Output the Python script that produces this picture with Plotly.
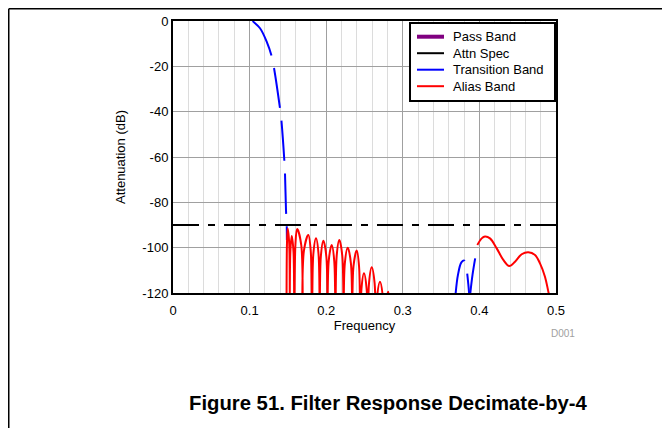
import plotly.graph_objects as go

# ---- data ----
series_names = ["Pass Band", "Attn Spec", "Transition Band", "Alias Band"]
series_colors = ["#800080", "#000000", "#0000ff", "#ff0000"]
series_widths = [4, 2, 2, 2]

pass_x = []
pass_y = []

attn_x = [0.0, 0.5]
attn_y = [-90, -90]

trans1_x = [0.1040, 0.1048, 0.1136, 0.1223, 0.1289, 0.1323, 0.1397, 0.1410, 0.1453, 0.1462, 0.1475, 0.1484, 0.1487]
trans1_y = [0.0, -0.3, -3.2, -9.1, -15.7, -21.6, -38.5, -41.9, -61.3, -67.2, -83.4, -89.2, -96.6]

trans2_x = [0.3685, 0.3720, 0.3765, 0.3803, 0.3830, 0.3855, 0.3870]
trans2_y = [-122, -112, -106.5, -105.7, -109, -116, -122]

trans3_x = [0.3875, 0.3910, 0.3956]
trans3_y = [-122, -112, -102.5]

# alias band lobes: null, shoulder, peak, shoulder, ...
alias1_x = [0.1482, 0.1488, 0.1497, 0.1517,
            0.1523, 0.1532, 0.1550, 0.1573,
            0.1582, 0.1598, 0.1620, 0.1674,
            0.1690, 0.1709, 0.1767, 0.1798,
            0.1817, 0.1832, 0.1867, 0.1900,
            0.1915, 0.1930, 0.1963, 0.2002,
            0.2017, 0.2033, 0.2072, 0.2105,
            0.2121, 0.2137, 0.2171, 0.2210,
            0.2226, 0.2243, 0.2281, 0.2323,
            0.2340, 0.2356, 0.2398, 0.2429,
            0.2445, 0.2460, 0.2493, 0.2528,
            0.2543, 0.2559, 0.2594, 0.2632,
            0.2648, 0.2664, 0.2702, 0.2740,
            0.2756, 0.2772, 0.2810, 0.2826,
            0.2835]
alias1_y = [-150, -98.0, -91.5, -98.0,
            -150, -101.8, -94.8, -101.8,
            -150, -98.8, -91.8, -98.8,
            -150, -101.4, -94.4, -101.4,
            -150, -102.9, -95.9, -102.9,
            -150, -104.0, -97.0, -104.0,
            -150, -105.8, -98.8, -105.8,
            -150, -103.6, -96.6, -103.6,
            -150, -107.0, -100.0, -107.0,
            -150, -108.3, -101.3, -108.3,
            -150, -118.3, -111.3, -118.3,
            -150, -115.6, -108.6, -115.6,
            -150, -122.0, -115.0, -122.0,
            -150, -126.4, -119.4, -126.4,
            -150]

alias2_x = [0.3973, 0.4030, 0.4073, 0.4138, 0.4226, 0.4312, 0.4390, 0.4465, 0.4552, 0.4638,
            0.4726, 0.4791, 0.4856, 0.4900, 0.4930]
alias2_y = [-98.8, -95.9, -95.1, -95.9, -100.3, -105.4, -108.1, -106.2, -102.9, -102.0,
            -103.2, -106.9, -112.8, -119.4, -124]

x_ticks = [0, 0.1, 0.2, 0.3, 0.4, 0.5]
x_ticklabels = ["0", "0.1", "0.2", "0.3", "0.4", "0.5"]
y_ticks = [0, -20, -40, -60, -80, -100, -120]
y_ticklabels = ["0", "-20", "-40", "-60", "-80", "-100", "-120"]

FONT = "Liberation Sans, Arial, sans-serif"

fig = go.Figure()
fig.add_trace(go.Scatter(x=pass_x, y=pass_y, mode="lines", name=series_names[0], showlegend=False,
                         line=dict(color=series_colors[0], width=series_widths[0])))
fig.add_trace(go.Scatter(x=attn_x, y=attn_y, mode="lines", name=series_names[1], showlegend=False,
                         line=dict(color=series_colors[1], width=series_widths[1],
                                   dash="26px,9px,7px,9px")))
fig.add_trace(go.Scatter(x=trans1_x + [None] + trans2_x + [None] + trans3_x,
                         y=trans1_y + [None] + trans2_y + [None] + trans3_y,
                         mode="lines", name=series_names[2], line_shape="spline", showlegend=False,
                         line=dict(color=series_colors[2], width=series_widths[2], dash="40px,13px")))
fig.add_trace(go.Scatter(x=alias1_x + [None] + alias2_x, y=alias1_y + [None] + alias2_y,
                         mode="lines", name=series_names[3], line_shape="spline", showlegend=False,
                         line=dict(color=series_colors[3], width=series_widths[3])))

# page has an 8px body margin; work in reference page coordinates
OFF = 8
W, H = 670 - OFF, 428 - OFF
L, R, T, B = 173, 556, 21, 293          # plot area in page coordinates
pw, ph = R - L, B - T

def px(xp):
    return (xp - L) / pw

def py(yp):
    return (B - yp) / ph

shapes = [
    dict(type="line", xref="paper", yref="paper", x0=px(OFF + 0.75), x1=px(700),
         y0=py(OFF + 0.75), y1=py(OFF + 0.75), line=dict(color="black", width=1.5)),
    dict(type="line", xref="paper", yref="paper", x0=px(OFF + 0.75), x1=px(OFF + 0.75),
         y0=py(OFF + 0.75), y1=py(440), line=dict(color="black", width=1.5)),
    # legend box
    dict(type="rect", xref="paper", yref="paper", x0=px(410), x1=px(555), y0=py(23), y1=py(101),
         fillcolor="white", line=dict(color="black", width=2), layer="above"),
]
annotations = [
    dict(text="<b>Figure 51. Filter Response Decimate-by-4</b>", xref="paper", yref="paper",
         x=px(388.5), y=py(403), xanchor="center", yanchor="middle", showarrow=False,
         font=dict(size=20.3, family=FONT, color="black")),
    dict(text="D001", xref="paper", yref="paper", x=px(563), y=py(333),
         xanchor="center", yanchor="middle", showarrow=False,
         font=dict(size=10, family=FONT, color="#a0a0a0")),
]
# legend entries
leg_y0, leg_dy = 36.7, 16.5
for i, (nm, col, lw) in enumerate(zip(series_names, series_colors, series_widths)):
    yy = leg_y0 + i * leg_dy
    shapes.append(dict(type="line", xref="paper", yref="paper", x0=px(417), x1=px(444),
                       y0=py(yy), y1=py(yy), line=dict(color=col, width=lw), layer="above"))
    annotations.append(dict(text=nm, xref="paper", yref="paper", x=px(450.5), y=py(yy),
                            xanchor="left", yanchor="middle", showarrow=False,
                            font=dict(size=13, family=FONT, color="black")))

fig.update_layout(
    width=W, height=H,
    margin=dict(l=L - OFF, r=W - (R - OFF), t=T - OFF, b=H - (B - OFF), pad=0, autoexpand=False),
    paper_bgcolor="white", plot_bgcolor="white",
    font=dict(family=FONT, size=13, color="black"),
    showlegend=False,
    xaxis=dict(range=[0, 0.5], tickvals=x_ticks, ticktext=x_ticklabels, automargin=False,
               showgrid=True, gridcolor="#a0a0a0", gridwidth=1,
               minor=dict(dtick=0.02, showgrid=True, gridcolor="#dcdcdc", gridwidth=1),
               showline=True, linecolor="black", linewidth=2, mirror=True,
               zeroline=False, ticks="", ticklabelstandoff=4,
               title=dict(text="Frequency", standoff=3, font=dict(size=13))),
    yaxis=dict(range=[-120, 0], tickvals=y_ticks, ticktext=y_ticklabels, automargin=False,
               showgrid=True, gridcolor="#a0a0a0", gridwidth=1,
               showline=True, linecolor="black", linewidth=2, mirror=True,
               zeroline=False, ticks="",
               title=dict(text="Attenuation (dB)", standoff=14, font=dict(size=13))),
    shapes=shapes,
    annotations=annotations,
)

fig.write_html("out.html")
